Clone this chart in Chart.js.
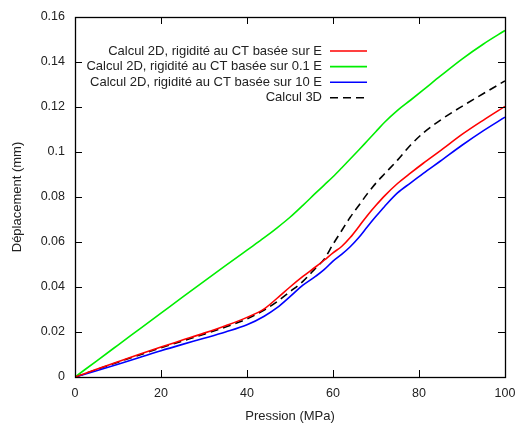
<!DOCTYPE html>
<html>
<head>
<meta charset="utf-8">
<script src="https://cdn.jsdelivr.net/npm/chart.js@4/dist/chart.umd.min.js"></script>
<style>
  html, body { margin: 0; padding: 0; background: #fff; }
  #wrap { width: 516px; height: 426px; }
</style>
</head>
<body>
<div id="wrap"><canvas id="c" width="516" height="426"></canvas></div>
<script>
// Pression (MPa)
const pression = [0, 5, 10, 15, 20, 25, 30, 35, 40, 44, 47, 50, 53, 56, 58, 60, 62, 64, 66, 68, 70, 72, 75, 78, 81, 85, 90, 95, 100];

// Déplacement (mm)
const calc2D_E = [0, 0.0034, 0.0068, 0.0101, 0.0133, 0.0164, 0.0195, 0.0228, 0.0265, 0.0303, 0.0350, 0.0400, 0.0447, 0.0490, 0.0520, 0.0552, 0.0580, 0.0620, 0.0668, 0.0718, 0.0763, 0.0805, 0.0860, 0.0906, 0.0950, 0.1006, 0.1078, 0.1142, 0.1203];
const calc2D_01E = [0, 0.0071, 0.0142, 0.0213, 0.0284, 0.0355, 0.0425, 0.0495, 0.0564, 0.0619, 0.0663, 0.0710, 0.0763, 0.0818, 0.0854, 0.0890, 0.0929, 0.0969, 0.1009, 0.1050, 0.1091, 0.1132, 0.1185, 0.1230, 0.1276, 0.1338, 0.1413, 0.1480, 0.1540];
const calc2D_10E = [0, 0.0028, 0.0057, 0.0087, 0.0117, 0.0145, 0.0172, 0.0200, 0.0232, 0.0270, 0.0308, 0.0357, 0.0408, 0.0448, 0.0478, 0.0515, 0.0545, 0.0579, 0.0620, 0.0668, 0.0714, 0.0758, 0.0818, 0.0862, 0.0905, 0.0960, 0.1030, 0.1095, 0.1155];
const calc3D = [0, 0.0033, 0.0066, 0.0098, 0.0130, 0.0160, 0.0190, 0.0222, 0.0258, 0.0298, 0.0335, 0.0379, 0.0425, 0.0485, 0.0525, 0.0590, 0.0650, 0.0710, 0.0762, 0.0815, 0.0862, 0.0903, 0.0964, 0.1030, 0.1085, 0.1142, 0.1203, 0.1260, 0.1316];

const seriesLabels = [
  "Calcul 2D, rigidité au CT basée sur E",
  "Calcul 2D, rigidité au CT basée sur 0.1 E",
  "Calcul 2D, rigidité au CT basée sur 10 E",
  "Calcul 3D"
];
const xTitle = "Pression (MPa)";
const yTitle = "Déplacement (mm)";

const toPts = (ys) => pression.map((x, i) => ({ x: x, y: ys[i] }));
const FONT = "'Liberation Sans', Arial, sans-serif";
const TXT = '#222';

const frameTicks = {
  id: 'frameTicks',
  afterDatasetsDraw(chart) {
    const { ctx, chartArea: a, scales } = chart;
    ctx.save();
    ctx.strokeStyle = '#000';
    ctx.lineWidth = 1;
    const tl = 7;
    scales.x.ticks.forEach(t => {
      const px = Math.round(scales.x.getPixelForValue(t.value)) + 0.5;
      ctx.beginPath();
      ctx.moveTo(px, a.bottom); ctx.lineTo(px, a.bottom - tl);
      ctx.moveTo(px, a.top); ctx.lineTo(px, a.top + tl);
      ctx.stroke();
    });
    scales.y.ticks.forEach(t => {
      const py = Math.round(scales.y.getPixelForValue(t.value)) + 0.5;
      ctx.beginPath();
      ctx.moveTo(a.left, py); ctx.lineTo(a.left + tl, py);
      ctx.moveTo(a.right, py); ctx.lineTo(a.right - tl, py);
      ctx.stroke();
    });
    ctx.lineWidth = 1.3;
    ctx.strokeRect(Math.round(a.left) + 0.5, Math.round(a.top) + 0.5, Math.round(a.right - a.left), Math.round(a.bottom - a.top));
    ctx.restore();
  }
};

const insideLegend = {
  id: 'insideLegend',
  afterDraw(chart) {
    const { ctx, chartArea: a } = chart;
    ctx.save();
    ctx.font = '13px ' + FONT;
    ctx.fillStyle = TXT;
    ctx.textAlign = 'right';
    ctx.textBaseline = 'middle';
    const textRight = a.left + 247;
    const x0 = a.left + 255, x1 = a.left + 292;
    chart.data.datasets.forEach((ds, i) => {
      const y = a.top + 34 + i * 15.6;
      ctx.fillText(ds.label, textRight, y);
      ctx.beginPath();
      ctx.strokeStyle = ds.borderColor;
      ctx.lineWidth = ds.borderWidth;
      ctx.setLineDash(ds.borderDash || []);
      ctx.moveTo(x0, y); ctx.lineTo(x1, y);
      ctx.stroke();
    });
    ctx.restore();
  }
};

const mk = (label, ys, color, dash) => ({
  label: label,
  data: toPts(ys),
  borderColor: color,
  backgroundColor: color,
  borderWidth: 1.6,
  borderDash: dash || [],
  pointRadius: 0,
  fill: false,
  cubicInterpolationMode: 'monotone'
});

new Chart(document.getElementById('c'), {
  type: 'line',
  data: {
    datasets: [
      mk(seriesLabels[0], calc2D_E, '#ff0000'),
      mk(seriesLabels[1], calc2D_01E, '#00ee00'),
      mk(seriesLabels[2], calc2D_10E, '#0000ff'),
      mk(seriesLabels[3], calc3D, '#000000', [8, 5])
    ]
  },
  options: {
    responsive: false,
    animation: false,
    layout: { padding: { top: 17, right: 11, left: 0, bottom: 0 } },
    plugins: { legend: { display: false }, tooltip: { enabled: false } },
    scales: {
      x: {
        type: 'linear', min: 0, max: 100,
        grid: { display: false, drawTicks: false },
        border: { display: false },
        ticks: { stepSize: 20, padding: 9, color: TXT, font: { family: FONT, size: 12.5 }, maxRotation: 0 },
        title: { display: true, text: xTitle, color: TXT, font: { family: FONT, size: 13 }, padding: { top: 0, bottom: 2 } },
        afterFit(s) { s.height = 49; s.paddingLeft = 0; s.paddingRight = 0; }
      },
      y: {
        type: 'linear', min: 0, max: 0.16,
        grid: { display: false, drawTicks: false },
        border: { display: false },
        ticks: { stepSize: 0.02, padding: 10, color: TXT, font: { family: FONT, size: 12.5 },
          callback: (v) => String(+Number(v).toFixed(4)) },
        title: { display: true, text: yTitle, color: TXT, font: { family: FONT, size: 13 }, padding: { top: 10, bottom: 0 } },
        afterFit(s) { s.width = 75; s.paddingTop = 0; s.paddingBottom = 0; }
      }
    }
  },
  plugins: [frameTicks, insideLegend]
});
</script>
</body>
</html>
